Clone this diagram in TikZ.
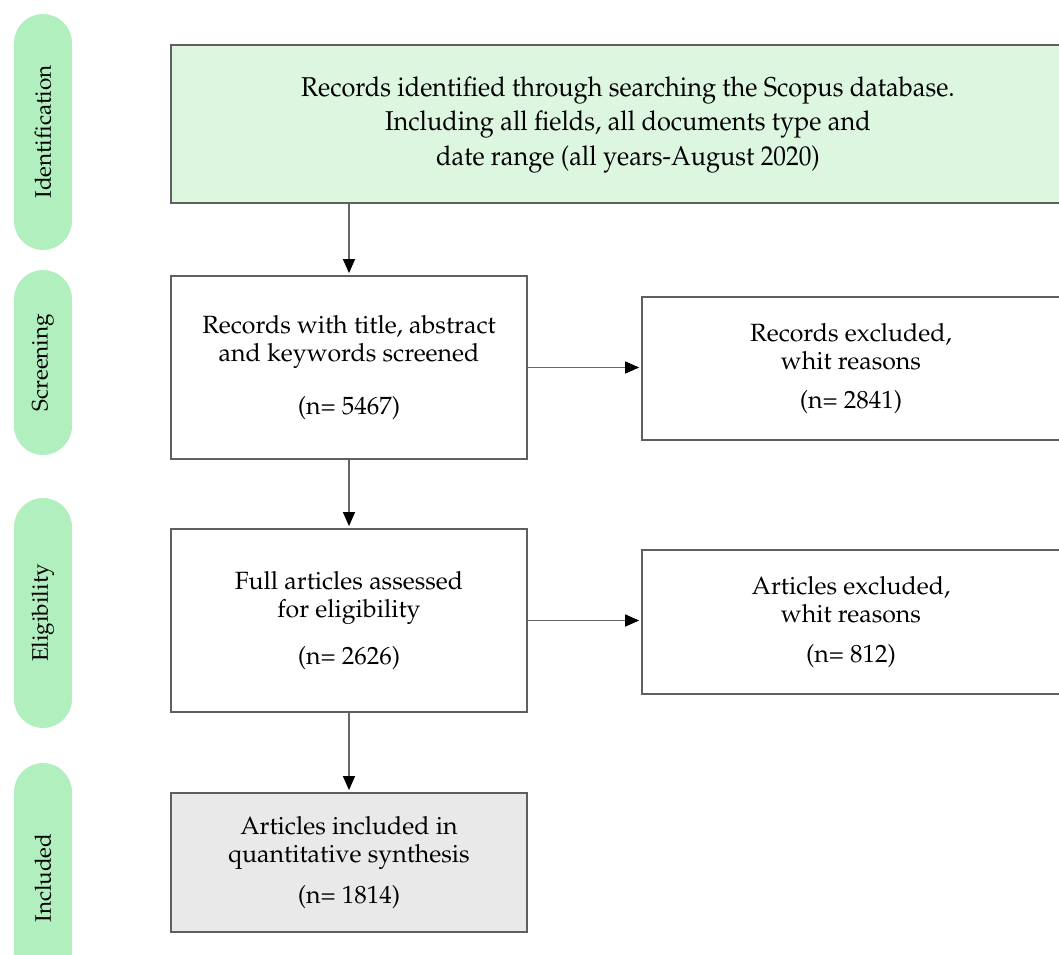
\documentclass[tikz,border=0pt]{standalone}
\usepackage[T1]{fontenc}
\usepackage{graphicx}
\usepackage{mathpazo}
\usepackage{tikz}
\usetikzlibrary{positioning}
\usetikzlibrary{arrows.meta}
\tikzset{>={Triangle[width=2.4mm,length=2.8mm,color=black]}}
\definecolor{stagegreen}{RGB}{178,239,190}
\definecolor{idgreen}{RGB}{220,246,223}
\definecolor{inclgrey}{RGB}{233,233,233}
\definecolor{edgegrey}{RGB}{95,95,95}

\begin{document}
\begin{tikzpicture}[x=0.02cm, y=-0.02cm, boxnode/.style={rectangle, draw=edgegrey, line width=0.9pt, align=center, inner sep=0pt, font=\fontsize{14.2}{16}\selectfont}, stagenode/.style={rectangle, rounded corners=0.58cm, fill=stagegreen, minimum height=1.16cm, rotate=90, inner sep=0pt, font=\fontsize{12.8}{14}\selectfont}, arrowline/.style={draw=black!60, line width=0.8pt, shorten >=1.2pt}]

    \useasboundingbox (0,0) rectangle (1059,955);

    %Nodes
    \node[stagenode, minimum width=4.72cm](ident) at (43,132){Identification};
    \node[stagenode, minimum width=3.7cm](screening) at (43,362.5){Screening};
    \node[stagenode, minimum width=4.6cm](eligibility) at (43,613){Eligibility};
    \node[stagenode, minimum width=4.6cm](included) at (43,878){Included};

    \node[boxnode, fill=idgreen, minimum width=18.28cm, minimum height=3.16cm](records) at (628,124){\scalebox{0.93}[1]{\fontsize{15.5}{19.9}\selectfont\begin{tabular}{@{}c@{}}Records identified through searching the Scopus database.\\Including all fields, all documents type and\\date range (all years-August 2020)\end{tabular}}};
    \node[boxnode, minimum width=7.12cm, minimum height=3.66cm](screen) at (349,367.5){Records with title, abstract\\and keywords screened\\[14pt](n= 5467)};
    \node[boxnode, minimum width=8.36cm, minimum height=2.86cm](excl1) at (851,368.5){Records excluded,\\whit reasons\\[6pt](n= 2841)};
    \node[boxnode, minimum width=7.12cm, minimum height=3.66cm](elig) at (349,620.5){Full articles assessed\\for eligibility\\[11pt](n= 2626)};
    \node[boxnode, minimum width=8.36cm, minimum height=2.88cm](excl2) at (851,622){Articles excluded,\\whit reasons\\[7pt](n= 812)};
    \node[boxnode, fill=inclgrey, minimum width=7.12cm, minimum height=2.78cm](incl) at (349,862.5){Articles included in\\quantitative synthesis\\[7pt](n= 1814)};

    %Lines
    \draw[arrowline, ->] (records.south -| screen.north) -- (screen.north);
    \draw[arrowline, ->] (screen.south) -- (elig.north);
    \draw[arrowline, ->] (elig.south) -- (incl.north);
    \draw[arrowline, ->] (screen.east) -- (screen.east -| excl1.west);
    \draw[arrowline, ->] (elig.east) -- (elig.east -| excl2.west);

\end{tikzpicture}
\end{document}
